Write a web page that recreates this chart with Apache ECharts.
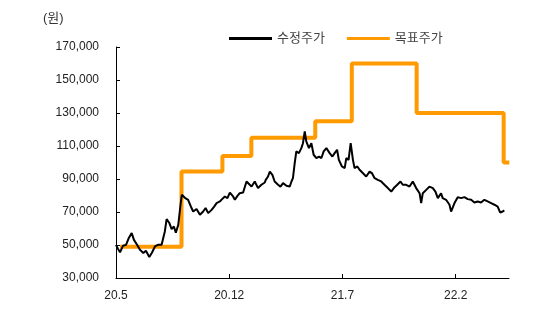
<!DOCTYPE html>
<html>
<head>
<meta charset="utf-8">
<script src="https://cdn.jsdelivr.net/npm/echarts@6/dist/echarts.min.js"></script>
<style>
html,body{margin:0;padding:0;background:#fff;}
#chart{width:545px;height:327px;}
</style>
</head>
<body>
<div id="chart"></div>
<script>
// x = months since 2020-05 (0 = 20.5)
const priceMonths = [0,0.12,0.25,0.43,0.62,0.80,0.97,1.11,1.30,1.48,1.69,1.85,2.06,2.22,2.41,2.59,2.82,3.02,3.13,3.29,3.44,3.58,3.70,3.85,3.99,4.07,4.26,4.46,4.67,4.77,4.98,5.19,5.39,5.54,5.70,5.91,6.07,6.22,6.42,6.56,6.73,6.89,7.04,7.24,7.35,7.51,7.65,7.86,8.07,8.21,8.38,8.58,8.78,8.99,9.20,9.26,9.40,9.51,9.67,9.81,10.02,10.17,10.33,10.54,10.74,10.85,10.94,11.05,11.15,11.31,11.46,11.56,11.67,11.77,11.93,12.08,12.22,12.39,12.55,12.70,12.84,13.01,13.21,13.38,13.52,13.67,13.78,13.97,14.14,14.24,14.38,14.51,14.65,14.75,14.92,15.06,15.26,15.47,15.68,15.82,15.99,16.19,16.40,16.60,16.81,17.02,17.18,17.39,17.59,17.73,17.94,18.15,18.35,18.56,18.77,18.87,18.97,19.18,19.38,19.59,19.75,19.90,20.10,20.20,20.41,20.62,20.72,20.93,21.13,21.34,21.54,21.75,21.96,22.16,22.36,22.57,22.78,22.98,23.19,23.40,23.60,23.75,23.91,24.01];
const priceValues = [50100,47700,45600,49500,50100,54400,57200,53100,50100,47100,45100,46500,42700,45300,49100,50100,50100,58200,65700,63500,59600,61200,57400,62200,74400,80400,78600,77400,72400,70300,71800,68300,70300,72400,69300,71300,73300,75400,76400,77800,79400,78400,81800,79400,77400,79800,81400,81800,88500,87100,85400,88500,84500,86500,87900,89500,91500,94500,92500,88500,86500,85400,87500,85900,85400,88500,90500,99600,106700,105700,108700,111700,118800,112700,108700,111700,104700,102700,103600,102700,106700,108700,105700,103600,105700,107700,101600,97600,96600,102700,101600,111700,101600,96600,97600,95600,93600,91500,94500,93600,90500,89500,88500,86500,84500,82400,84500,86500,88500,86500,86500,85400,88500,84500,81400,75400,81400,83400,85400,84500,82400,78400,81400,78400,77400,74400,70300,75400,79000,78400,79000,77800,77400,75800,76400,75800,77400,76400,75400,74400,73300,69700,70300,71000];

const targetMonths = [0.25,4.05,6.58,8.37,12.32,14.58,18.59,23.97,24.32];
const targetValues = [49000,94500,104000,115000,125000,160000,130000,100000,100000];

const xTickMonths = [0,7,14,21];
const xTickLabels = ['20.5','20.12','21.7','22.2'];
const seriesNames = ['수정주가','목표주가'];

const FONT = '"Liberation Sans", Arial, "Noto Sans CJK KR", sans-serif';

const chart = echarts.init(document.getElementById('chart'), null, {renderer:'canvas'});
chart.setOption({
  animation:false,
  backgroundColor:'#fff',
  textStyle:{fontFamily:FONT},
  title:{text:'(원)', left:38, top:7, textStyle:{fontSize:13, fontWeight:'normal', color:'#333', fontFamily:FONT}},
  legend:{
    data:[{name:seriesNames[0]},{name:seriesNames[1]}],
    icon:'rect', left:224, top:27, itemWidth:43, itemHeight:3, itemGap:22,
    textStyle:{fontSize:13, color:'#444', fontFamily:FONT}
  },
  grid:{left:116, right:36, top:47, bottom:49},
  xAxis:{
    type:'value', min:0, max:24.3,
    axisLine:{show:true, lineStyle:{color:'#000', width:1}},
    axisTick:{show:true, inside:true, length:4, customValues:xTickMonths.slice(1), lineStyle:{color:'#000'}},
    axisLabel:{customValues:xTickMonths, fontSize:12, color:'#222', margin:12, fontFamily:FONT,
      formatter:function(v){const i=xTickMonths.indexOf(Math.round(v)); return i>=0?xTickLabels[i]:'';}},
    splitLine:{show:false}
  },
  yAxis:{
    type:'value', min:30000, max:170000, interval:20000,
    axisLine:{show:true, lineStyle:{color:'#000', width:1}},
    axisTick:{show:true, inside:true, length:4, lineStyle:{color:'#000'}},
    axisLabel:{fontSize:12, color:'#222', margin:17, fontFamily:FONT,
      formatter:function(v){return String(v).replace(/\B(?=(\d{3})+(?!\d))/g, ',');}},
    splitLine:{show:false}
  },
  series:[
    {name:seriesNames[1], type:'line', step:'end', symbol:'none', z:2,
     data:targetMonths.map((m,i)=>[m,targetValues[i]]),
     lineStyle:{color:'#FF9A00', width:4}, itemStyle:{color:'#FF9A00'}},
    {name:seriesNames[0], type:'line', symbol:'none', z:3,
     data:priceMonths.map((m,i)=>[m,priceValues[i]]),
     lineStyle:{color:'#000', width:2}, itemStyle:{color:'#000'}}
  ]
});
</script>
</body>
</html>
